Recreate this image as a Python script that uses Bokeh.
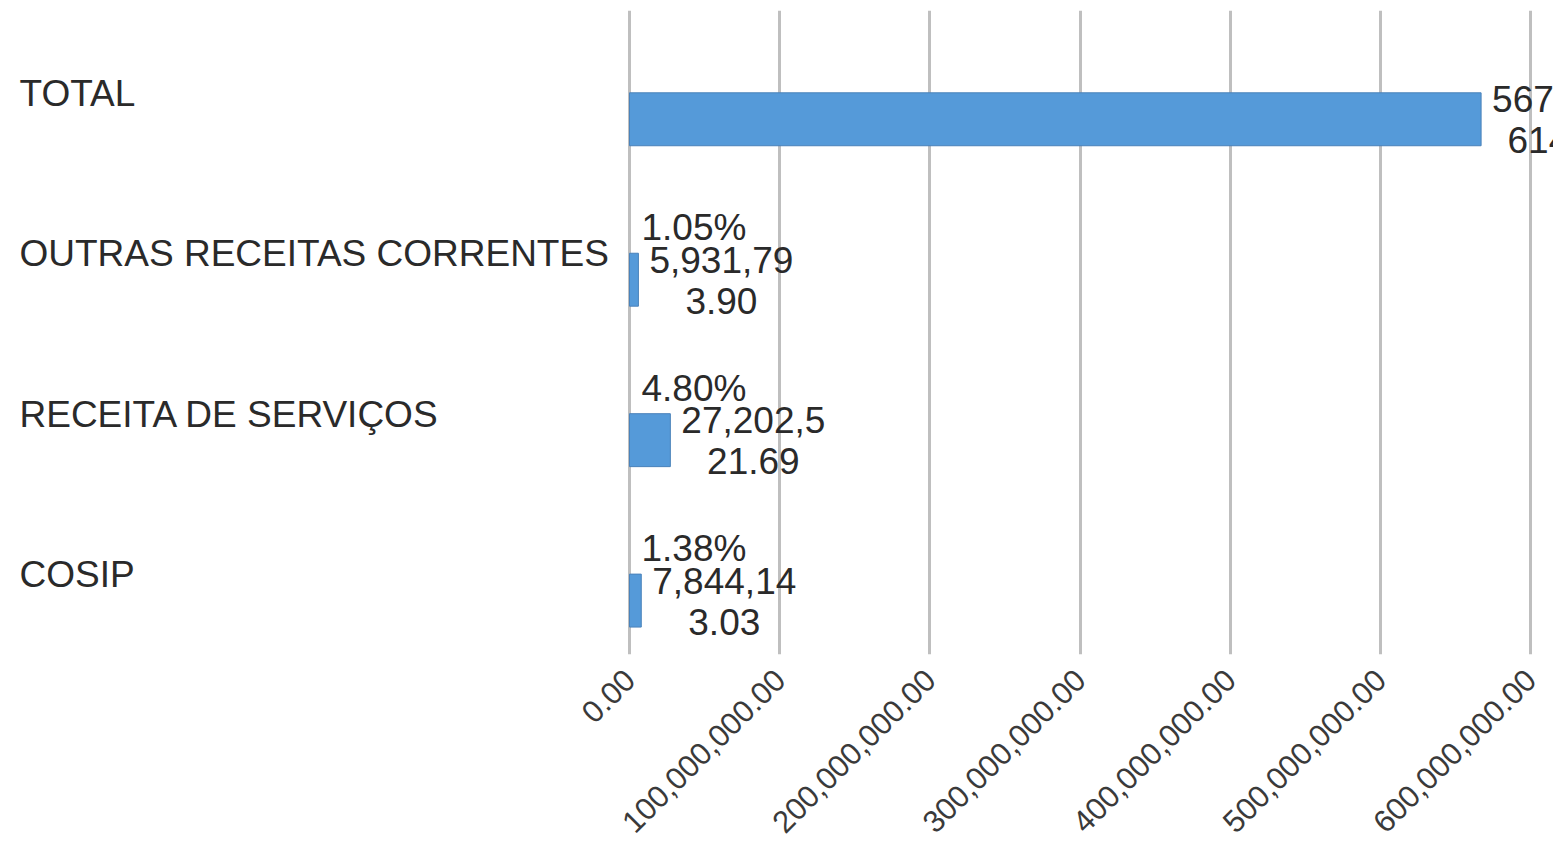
import math
from bokeh.plotting import figure
from bokeh.models import Range1d, FixedTicker, NumeralTickFormatter, ColumnDataSource
from bokeh.core.properties import value
from bokeh.embed import file_html
from bokeh.resources import INLINE

# ---- data ----
categories = ["COSIP", "RECEITA DE SERVIÇOS", "OUTRAS RECEITAS CORRENTES", "TOTAL"]
amounts = [7844143.03, 27202521.69, 5931793.90, 567108614.52]
pct_labels = ["1.38%", "4.80%", "1.05%", ""]
x_ticks = [0, 100000000, 200000000, 300000000, 400000000, 500000000, 600000000]

# wrapped value labels (as shown in the chart, wrapped after 8 characters)
formatted = [f"{v:,.2f}" for v in amounts]
line1 = [s[:8] for s in formatted]
line2 = [s[8:] for s in formatted]
ypos = list(range(len(categories)))

FONT = "Liberation Sans"
TXT = "#2a2a2a"

# ---- layout (pixels) ----
W, H = 1553, 845
zero_px, max_px = 629, 1530
k = (max_px - zero_px) / x_ticks[-1]
x_start = -zero_px / k
x_end = x_start + W / k

p = figure(width=W, height=H, output_backend="svg", toolbar_location=None,
           x_range=Range1d(x_start, x_end), y_range=Range1d(-0.336, 3.678),
           y_axis_location=None, min_border_left=0, min_border_right=0,
           min_border_top=10, min_border_bottom=190)
p.outline_line_color = None
p.background_fill_color = "white"
p.border_fill_color = "white"

src = ColumnDataSource(dict(y=ypos, right=amounts, cat=categories, pct=pct_labels,
                            l1=line1, l2=line2, zero=[0] * len(ypos),
                            xs=[x_start] * len(ypos)))

p.hbar(y="y", left=0, right="right", height=0.33, source=src,
       fill_color="#559AD9", line_color="#4A82BA", line_width=1)

common = dict(text_font=value(FONT), text_font_size="37px", text_color=TXT,
              text_baseline="middle", source=src)
p.text(x="xs", y="y", text="cat", x_offset=19, y_offset=-26, text_align="left", **common)
p.text(x="zero", y="y", text="pct", x_offset=12, y_offset=-52, text_align="left", **common)
p.text(x="right", y="y", text="l1", x_offset=83, y_offset=-20, text_align="center", **common)
p.text(x="right", y="y", text="l2", x_offset=83, y_offset=21, text_align="center", **common)

ax = p.xaxis[0]
ax.ticker = FixedTicker(ticks=x_ticks)
ax.formatter = NumeralTickFormatter(format="0,0.00")
ax.major_label_orientation = math.pi / 4
ax.major_label_text_font = FONT
ax.major_label_text_font_size = "31px"
ax.major_label_text_color = "#3a3a3a"
ax.major_label_standoff = 14
ax.axis_line_color = None
ax.major_tick_line_color = None
ax.minor_tick_line_color = None

p.xgrid.ticker = FixedTicker(ticks=x_ticks)
p.xgrid.grid_line_color = "#BFBFBF"
p.xgrid.grid_line_width = 3
p.ygrid.grid_line_color = None

open("out.html", "w").write(file_html(p, INLINE))
